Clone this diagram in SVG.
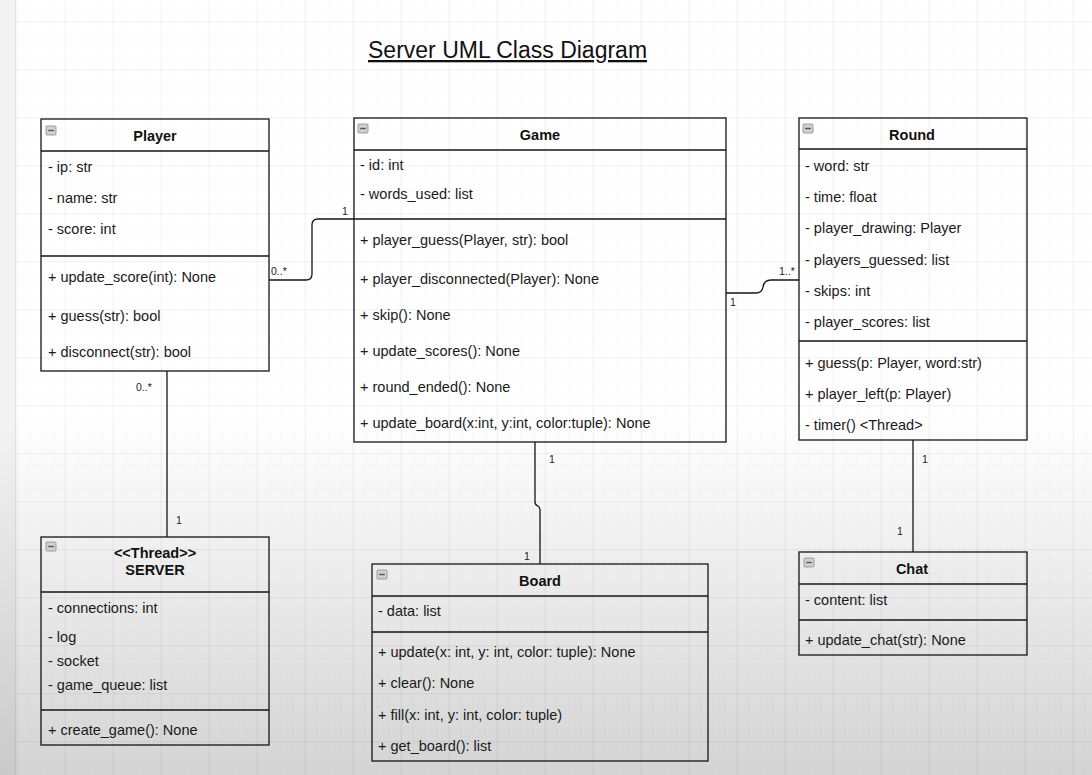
<svg xmlns="http://www.w3.org/2000/svg" width="1092" height="775" viewBox="0 0 1092 775">
<defs>
<pattern id="minor" x="16.7" y="21.3" width="12" height="12" patternUnits="userSpaceOnUse">
<path d="M0 0H12M0 0V12" fill="none" stroke="#f6f6f6" stroke-width="1"/>
</pattern>
<pattern id="major" x="16.7" y="21.3" width="48" height="48" patternUnits="userSpaceOnUse">
<path d="M0 0H48M0 0V48" fill="none" stroke="#e8e8e8" stroke-width="1"/>
</pattern>
<linearGradient id="shade" x1="0" y1="0" x2="0" y2="1">
<stop offset="0" stop-color="#000" stop-opacity="0"/>
<stop offset="1" stop-color="#000" stop-opacity="0.17"/>
</linearGradient>
<g id="icon">
<rect x="0" y="0" width="10" height="9" rx="1" fill="#d0d0d0" stroke="#8a8a8a" stroke-width="0.8"/>
<path d="M2.2 4.5H7.8" stroke="#555" stroke-width="1.4"/>
</g>
</defs>
<style>
.box{fill:none;stroke:#151515;stroke-width:1.3}
.sep{stroke:#151515;stroke-width:1.3}
.t{font-family:"Liberation Sans",Arial,sans-serif;font-size:14.5px;fill:#1a1a1a}
.h{font-family:"Liberation Sans",Arial,sans-serif;font-size:14.5px;font-weight:bold;fill:#111;text-anchor:middle}
.m{font-family:"Liberation Sans",Arial,sans-serif;font-size:10.5px;fill:#222}
.c{fill:none;stroke:#151515;stroke-width:1.3}
</style>
<rect width="1092" height="775" fill="#ffffff"/>
<rect x="16" y="0" width="1076" height="775" fill="url(#minor)"/>
<rect x="16" y="0" width="1076" height="775" fill="url(#major)"/>
<rect x="0" y="0" width="15" height="775" fill="#f3f3f3"/>
<line x1="15.5" y1="0" x2="15.5" y2="775" stroke="#e2e2e2"/>
<rect x="0" y="420" width="1092" height="355" fill="url(#shade)"/>

<text x="368" y="58" font-family="Liberation Sans, Arial, sans-serif" font-size="23" fill="#111" text-decoration="underline">Server UML Class Diagram</text>

<g id="connectors">
<path class="c" d="M167 371V537"/>
<path class="c" d="M269 280H306Q312 280 312 274V225Q312 219 318 219H354"/>
<path class="c" d="M726 293H756Q762 293 763 287Q764 280 771 280H799"/>
<path class="c" d="M535 442V502Q535 505 538 506Q540 507 540 510V564"/>
<path class="c" d="M913 440V552"/>
<text class="m" x="136" y="391">0..*</text>
<text class="m" x="176" y="524">1</text>
<text class="m" x="271" y="275">0..*</text>
<text class="m" x="342" y="215">1</text>
<text class="m" x="779" y="275">1..*</text>
<text class="m" x="730" y="306">1</text>
<text class="m" x="549" y="463">1</text>
<text class="m" x="524" y="560">1</text>
<text class="m" x="922" y="463">1</text>
<text class="m" x="897" y="535">1</text>
</g>

<g id="player">
<rect class="box" x="41" y="119" width="228" height="252"/>
<line class="sep" x1="41" y1="151" x2="269" y2="151"/>
<line class="sep" x1="41" y1="256" x2="269" y2="256"/>
<use href="#icon" x="46" y="126"/>
<text class="h" x="155" y="141">Player</text>
<text class="t" x="48" y="172">- ip: str</text>
<text class="t" x="48" y="203">- name: str</text>
<text class="t" x="48" y="234">- score: int</text>
<text class="t" x="48" y="282">+ update_score(int): None</text>
<text class="t" x="48" y="321">+ guess(str): bool</text>
<text class="t" x="48" y="357">+ disconnect(str): bool</text>
</g>

<g id="game">
<rect class="box" x="354" y="118" width="372" height="324"/>
<line class="sep" x1="354" y1="150" x2="726" y2="150"/>
<line class="sep" x1="354" y1="219" x2="726" y2="219"/>
<use href="#icon" x="358" y="124"/>
<text class="h" x="540" y="140">Game</text>
<text class="t" x="360" y="170">- id: int</text>
<text class="t" x="360" y="199">- words_used: list</text>
<text class="t" x="360" y="245">+ player_guess(Player, str): bool</text>
<text class="t" x="360" y="284">+ player_disconnected(Player): None</text>
<text class="t" x="360" y="320">+ skip(): None</text>
<text class="t" x="360" y="356">+ update_scores(): None</text>
<text class="t" x="360" y="392">+ round_ended(): None</text>
<text class="t" x="360" y="428">+ update_board(x:int, y:int, color:tuple): None</text>
</g>

<g id="round">
<rect class="box" x="799" y="118" width="228" height="322"/>
<line class="sep" x1="799" y1="149" x2="1027" y2="149"/>
<line class="sep" x1="799" y1="341" x2="1027" y2="341"/>
<use href="#icon" x="803" y="124"/>
<text class="h" x="912" y="140">Round</text>
<text class="t" x="805" y="171">- word: str</text>
<text class="t" x="805" y="202">- time: float</text>
<text class="t" x="805" y="233">- player_drawing: Player</text>
<text class="t" x="805" y="265">- players_guessed: list</text>
<text class="t" x="805" y="296">- skips: int</text>
<text class="t" x="805" y="327">- player_scores: list</text>
<text class="t" x="805" y="368">+ guess(p: Player, word:str)</text>
<text class="t" x="805" y="399">+ player_left(p: Player)</text>
<text class="t" x="805" y="430">- timer() &lt;Thread&gt;</text>
</g>

<g id="server">
<rect class="box" x="41" y="537" width="228" height="208"/>
<line class="sep" x1="41" y1="592" x2="269" y2="592"/>
<line class="sep" x1="41" y1="710" x2="269" y2="710"/>
<use href="#icon" x="46" y="542"/>
<text class="h" x="155" y="558">&lt;&lt;Thread&gt;&gt;</text>
<text class="h" x="155" y="575">SERVER</text>
<text class="t" x="48" y="613">- connections: int</text>
<text class="t" x="48" y="642">- log</text>
<text class="t" x="48" y="666">- socket</text>
<text class="t" x="48" y="690">- game_queue: list</text>
<text class="t" x="48" y="735">+ create_game(): None</text>
</g>

<g id="board">
<rect class="box" x="372" y="564" width="336" height="197"/>
<line class="sep" x1="372" y1="596" x2="708" y2="596"/>
<line class="sep" x1="372" y1="632" x2="708" y2="632"/>
<use href="#icon" x="377" y="570"/>
<text class="h" x="540" y="586">Board</text>
<text class="t" x="378" y="616">- data: list</text>
<text class="t" x="378" y="657">+ update(x: int, y: int, color: tuple): None</text>
<text class="t" x="378" y="688">+ clear(): None</text>
<text class="t" x="378" y="720">+ fill(x: int, y: int, color: tuple)</text>
<text class="t" x="378" y="751">+ get_board(): list</text>
</g>

<g id="chat">
<rect class="box" x="799" y="552" width="228" height="103"/>
<line class="sep" x1="799" y1="584" x2="1027" y2="584"/>
<line class="sep" x1="799" y1="620" x2="1027" y2="620"/>
<use href="#icon" x="804" y="558"/>
<text class="h" x="912" y="574">Chat</text>
<text class="t" x="805" y="605">- content: list</text>
<text class="t" x="805" y="645">+ update_chat(str): None</text>
</g>
</svg>
